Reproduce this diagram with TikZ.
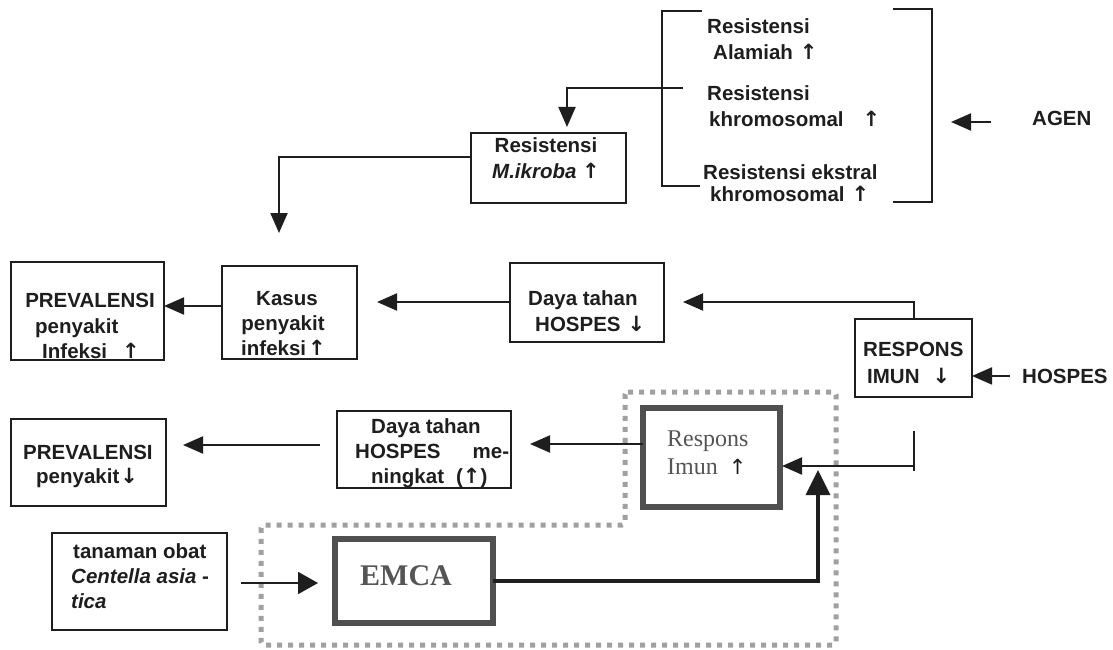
\documentclass[tikz,border=0pt]{standalone}
\usepackage{fontspec}
\setmainfont{Liberation Sans}
\newfontfamily\seriffam{Liberation Serif}
\newfontfamily\arrfam{DejaVu Sans}
\newcommand\myup{{\arrfam\fontsize{21}{24}\selectfont ↑}}
\newcommand\mydown{{\arrfam\fontsize{21}{24}\selectfont ↓}}
\usetikzlibrary{arrows.meta}
\definecolor{ink}{HTML}{1E1E1E}
\definecolor{thickgray}{HTML}{505050}
\definecolor{softgray}{HTML}{555555}
\definecolor{dotgray}{HTML}{A0A0A0}
\begin{document}
\begin{tikzpicture}[x=1pt,y=-1pt,
  box/.style={draw=ink, line width=2pt, inner sep=0pt, outer sep=0pt, rectangle},
  thickbox/.style={draw=thickgray, line width=6pt, inner sep=0pt, outer sep=0pt, rectangle},
  txt/.style={text=ink, font=\fontsize{20.5}{24}\selectfont\bfseries, inner sep=0pt, anchor=base west},
  ctxt/.style={txt, anchor=base},
  stxt/.style={text=softgray, font=\fontsize{24}{28}\selectfont\seriffam, inner sep=0pt, anchor=base west},
  conn/.style={draw=ink, line width=2pt},
  arr/.style={conn, -{Triangle[length=20pt,width=17pt]}},
  bigarr/.style={draw=ink, line width=3.5pt, -{Triangle[length=25pt,width=24pt]}},
  dotline/.style={draw=dotgray, line width=5pt, dash pattern=on 5pt off 6pt}
]
\fill[white] (0,0) rectangle (1113,650);
\useasboundingbox (0,0) rectangle (1113,650);

% dotted region
\draw[dotline, rounded corners=3pt] (625,392) -- (836,392) -- (836,645) -- (261,645) -- (261,525) -- (625,525) -- cycle;

% brackets
\draw[conn] (702,11) -- (662,11) -- (662,186) -- (700,186);
\draw[conn] (893,9) -- (932,9) -- (932,202) -- (893,202);

% bracket texts
\node[txt] (ra1) at (707,34) {Resistensi};
\node[txt] (ra2) at (713,60) {Alamiah\hspace{7pt}\myup};
\node[txt] (rk1) at (707,101) {Resistensi};
\node[txt] (rk2) at (709,127) {khromosomal\hspace{19pt}\myup};
\node[txt] (re1) at (703,179) {Resistensi ekstral};
\node[txt] (re2) at (710,201) {khromosomal\hspace{7pt}\myup};

% AGEN / HOSPES labels
\node[txt] (agen) at (1032,126) {AGEN};
\node[txt] (hosp) at (1022,383) {HOSPES};

% boxes
\node[box, minimum width=155pt, minimum height=70pt] (mik) at (548.5,168) {};
\node[ctxt] (mikt1) at (546,153) {Resistensi};
\node[ctxt] (mikt2) at (546,178) {\itshape M.ikroba\upshape\ \myup};

\node[box, minimum width=153pt, minimum height=98pt] (prev1) at (87.5,311) {};
\node[ctxt] (p1a) at (90,307) {PREVALENSI};
\node[txt] (p1b) at (35,333) {penyakit};
\node[txt] (p1c) at (42,358) {Infeksi\hspace{15pt}\myup};

\node[box, minimum width=135pt, minimum height=93pt] (kasus) at (289.5,312.5) {};
\node[ctxt] (ka) at (287,305) {Kasus};
\node[ctxt] (kb) at (283,330) {penyakit};
\node[txt] (kc) at (241,355) {infeksi\hspace{2pt}\myup};

\node[box, minimum width=154pt, minimum height=79pt] (daya1) at (587,302.5) {};
\node[txt] (d1a) at (528,305) {Daya tahan};
\node[txt] (d1b) at (535,331) {HOSPES\hspace{7pt}\mydown};

\node[box, minimum width=117pt, minimum height=78pt] (resp) at (913.5,358) {};
\node[txt] (ra) at (863,356) {RESPONS};
\node[txt] (rb) at (867,383) {IMUN\hspace{13pt}\mydown};

\node[box, minimum width=155pt, minimum height=87pt] (prev2) at (88.5,462.5) {};
\node[txt] (p2a) at (23,459) {PREVALENSI};
\node[txt] (p2b) at (36,483) {penyakit\hspace{1pt}\mydown};

\node[box, minimum width=174pt, minimum height=77pt] (daya2) at (424,449.5) {};
\node[txt] (d2a) at (371,433) {Daya tahan};
\node[txt] (d2b) at (355,458) {HOSPES\hspace{32pt}me-};
\node[txt] (d2c) at (371,483) {ningkat\hspace{12pt}(\myup)};

\node[box, minimum width=175pt, minimum height=97pt] (tan) at (139.5,581.5) {};
\node[txt] (ta) at (73,558) {tanaman obat};
\node[txt] (tb) at (71,583) {\itshape Centella asia\upshape\ -};
\node[txt] (tc) at (71,608) {\itshape tica};

\node[thickbox, minimum width=158pt, minimum height=84pt] (emca) at (414,581) {};
\node[text=softgray, font=\fontsize{30}{34}\selectfont\seriffam\bfseries, inner sep=0pt, anchor=base west] (et) at (360,585) {EMCA};

\node[thickbox, minimum width=137pt, minimum height=99pt] (ri) at (711.5,457.5) {};
\node[stxt] (ria) at (667,446) {Respons};
\node[stxt] (rib) at (667,474) {Imun\hspace{11pt}{\color{ink}\myup}};

% helper coordinates
\coordinate (rk) at (683,88);
\coordinate (rkc) at (567,88);
\coordinate (mk) at (279,157);
\coordinate (y306) at (0,306);
\coordinate (y302) at (0,302);
\coordinate (y122) at (0,122);
\coordinate (y444) at (0,444);
\coordinate (y445) at (0,445);
\coordinate (y583) at (0,583);
\coordinate (tickTop) at (914,431);
\coordinate (tickBot) at (914,471);
\coordinate (tick) at (914,466);
\coordinate (ec) at (818,581);
\coordinate (brR) at (932,122);

% connectors
\draw[arr, shorten >=6pt] (rk) -- (rkc) -- (rkc |- mik.north);
\draw[arr, shorten >=33pt] (mik.west |- mk) -- (mk) -- (mk |- kasus.north);
\draw[arr] (kasus.west |- y306) -- (prev1.east |- y306);
\draw[arr, shorten >=20pt] (daya1.west |- y302) -- (kasus.east |- y302);
\draw[arr, shorten >=19pt] (resp.north) -- (resp.north |- y302) -- (daya1.east |- y302);
\draw[arr] ([xshift=-12pt]hosp.west) -- (resp.east |- hosp.west);
\draw[arr, shorten >=19pt] ([xshift=-41pt]agen.west |- y122) -- (brR);
\draw[conn] (tickTop) -- (tickBot);
\draw[arr, shorten >=2pt] (tick) -- (ri.east |- tick);
\draw[arr, shorten >=19pt] (ri.west |- y444) -- (daya2.east |- y444);
\draw[arr, shorten <=17pt, shorten >=17pt] (daya2.west |- y445) -- (prev2.east |- y445);
\draw[arr, shorten <=14pt, shorten >=17pt, -{Triangle[length=20pt,width=22pt]}] (tan.east |- y583) -- (emca.west |- y583);
\draw[bigarr, shorten >=4pt] (emca.east |- ec) -- (ec) -- (ec |- tick);
\end{tikzpicture}
\end{document}
